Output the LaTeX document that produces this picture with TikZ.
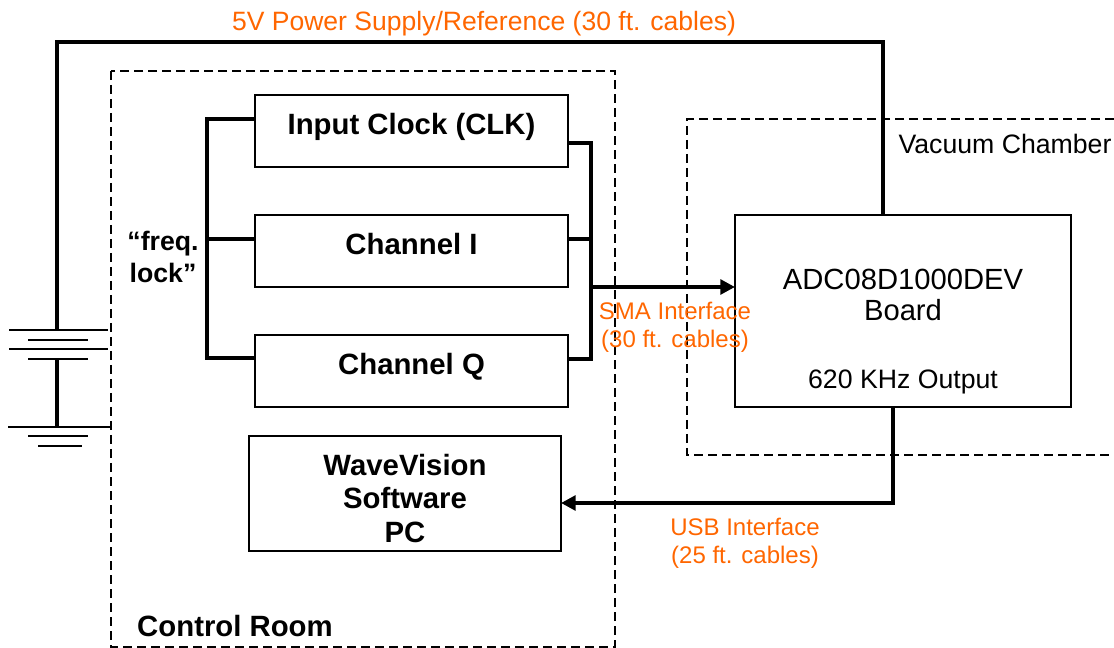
\documentclass[tikz,border=0pt]{standalone}
\usepackage{xcolor}
\usepackage{fontspec}
\setmainfont{Liberation Sans}
\usetikzlibrary{arrows.meta}
\definecolor{cableorange}{HTML}{FF6600}
\tikzset{
  boxnode/.style = {draw, line width = 1.5pt, outer sep = 0pt, inner sep = 0pt, align = center},
  boldtext/.style = {font = \fontsize{22}{25}\selectfont\bfseries},
  plaintext/.style = {font = \fontsize{20}{21}\selectfont},
  cabletext/.style = {font = \fontsize{18}{21}\selectfont, text = cableorange, align = center},
  wall/.style = {line width = 1.1pt, dash pattern = on 6.75pt off 3.75pt},
  cable/.style = {line width = 3pt},
  plate/.style = {line width = 1.6pt},
  tip/.style = {-{Triangle[length = 11pt, width = 11pt]}}
}
\begin{document}
\begin{tikzpicture}[x = 0.75pt, y = -0.75pt]
    \useasboundingbox (0, 0) rectangle (1114, 648);
    {
      \draw[wall] (111, 71) rectangle (615, 647);
      \draw[wall] (1114, 119) -- (687, 119) -- (687, 455) -- (1114, 455);
    }
    {
      \node[boxnode, boldtext, minimum width = 234.75pt, minimum height = 54pt, text height = 19pt, text depth = 13.5pt] (clk) at (411.5, 131) {Input Clock (CLK)};
      \node[boxnode, boldtext, minimum width = 234.75pt, minimum height = 54pt, text height = 19pt, text depth = 13.5pt] (chi) at (411.5, 251) {Channel I};
      \node[boxnode, boldtext, minimum width = 234.75pt, minimum height = 54pt, text height = 19pt, text depth = 13.5pt] (chq) at (411.5, 371) {Channel Q};
      \node[boxnode, boldtext, minimum width = 234pt, minimum height = 86.25pt] (pc) at (405, 493.5) {\rule{0pt}{23pt}WaveVision\\Software\\PC};
      \node[boxnode, minimum width = 252pt, minimum height = 144pt] (adc) at (903, 311) {};
    }
    \node[align = center, font = \fontsize{21.9}{23}\selectfont] (adcname) at (903, 295) {ADC08D1000DEV\\Board};
    \node[plaintext] (output) at (903, 382) {620 KHz Output};
    \node[plaintext] (chamber) at (1005, 144) {Vacuum Chamber};
    \node[boldtext] (room) at (235, 626) {Control Room};
    \node[align = center, font = \fontsize{20}{24}\selectfont\bfseries] (lock) at (163, 256.5) {“freq.\\lock”};
    {
      \coordinate (lockc) at (207, 119);
      \coordinate (locki) at (207, 239);
      \coordinate (lockq) at (207, 358);
      \draw[cable] (lockc -| clk.west) -- (lockc) -- (lockq) -- (lockq -| chq.west);
      \draw[cable] (locki) -- (locki -| chi.west);
    }
    {
      \coordinate (busc) at (591, 143);
      \coordinate (busi) at (591, 239);
      \coordinate (busa) at (591, 287);
      \coordinate (busq) at (591, 359);
      \draw[cable] (busc -| clk.east) -- (busc) -- (busq) -- (busq -| chq.east);
      \draw[cable] (busi) -- (busi -| chi.east);
      \draw[cable, tip] (busa) -- (busa -| adc.west);
    }
    {
      \coordinate (usbdrop) at (893, 503);
      \draw[cable, tip] (usbdrop |- adc.south) -- (usbdrop) -- (usbdrop -| pc.east);
    }
    {
      \coordinate (platea) at (57, 330);
      \coordinate (plateb) at (57, 359);
      \coordinate (gnd) at (57, 427);
      \coordinate (corner) at (57, 42);
      \coordinate (supply) at (883, 42);
      \draw[cable] (platea) -- (corner) -- (supply) -- (supply |- adc.north);
      \draw[cable] (plateb) -- (gnd);
      \draw[plate] (9, 330) -- (108, 330);
      \draw[plate] (28, 340) -- (88, 340);
      \draw[plate] (9, 349) -- (108, 349);
      \draw[plate] (28, 359) -- (88, 359);
      \draw[plate] (8, 427) -- (110, 427);
      \draw[plate] (28, 436) -- (88, 436);
      \draw[line width = 1.1pt] (38, 446) -- (82, 446);
    }
    \node[cabletext, font = \fontsize{19.9}{21}\selectfont] (power) at (484, 24) {5V Power Supply/Reference (30 ft. cables)};
    \node[cabletext] (sma) at (675, 327) {SMA Interface\\(30 ft. cables)};
    \node[cabletext] (usb) at (745, 543) {USB Interface\\(25 ft. cables)};
  \end{tikzpicture}
\end{document}
